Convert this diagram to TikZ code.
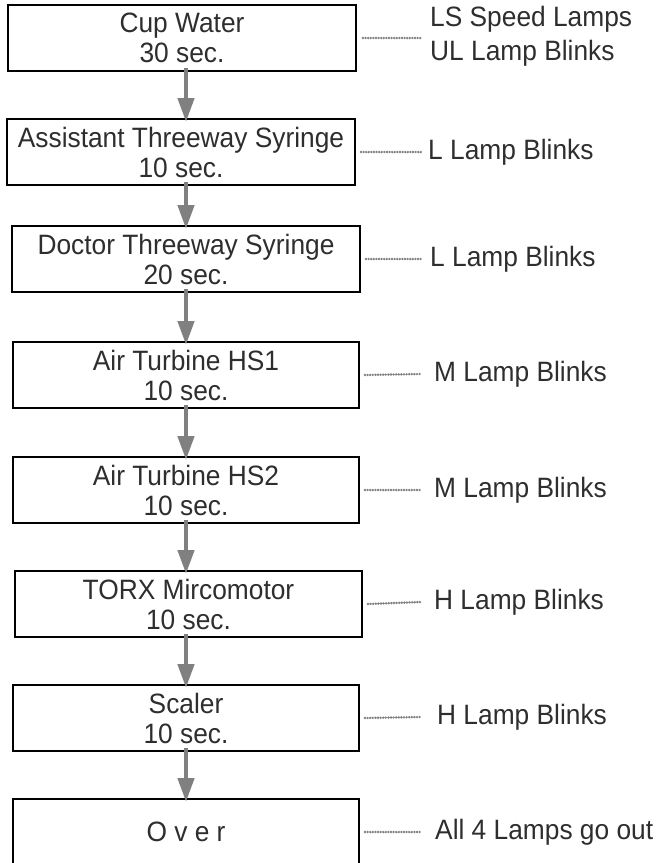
\documentclass[tikz,border=0pt]{standalone}
\usepackage{fontspec}
\setmainfont{Liberation Sans}[FakeStretch=0.94]
\usetikzlibrary{arrows.meta}
\definecolor{txt}{HTML}{2E2E2E}
\definecolor{arrgray}{HTML}{808080}
\definecolor{dotgray}{HTML}{7F7F7F}
\tikzset{
  stepbox/.style={draw=black, line width=2pt, fill=white, rectangle, inner sep=0pt,
    minimum width=346pt, minimum height=66pt, align=center, text=txt,
    font=\fontsize{28}{30}\selectfont},
  lamplabel/.style={anchor=west, inner sep=0pt, align=left, text=txt,
    font=\fontsize{28}{34}\selectfont},
  flowarrow/.style={draw=arrgray, line width=4.5pt,
    -{Triangle[length=24pt,width=16pt,fill=arrgray]}},
  dotlink/.style={draw=dotgray, line width=2.6pt, line cap=round, dash pattern=on 0pt off 2.6pt}
}
\begin{document}
\begin{tikzpicture}[x=1pt,y=-1pt]
\useasboundingbox (0,0) rectangle (662,863);
\coordinate (ax) at (186,0);
% boxes
\node[stepbox, minimum width=348pt] (b1) at (182,38) {Cup Water\\30 sec.};
\node[stepbox, minimum width=348pt] (b2) at (181,152) {Assistant Threeway Syringe\\10 sec.};
\node[stepbox, minimum width=348pt] (b3) at (186,259) {Doctor Threeway Syringe\\20 sec.};
\node[stepbox] (b4) at (186,375) {Air Turbine HS1\\10 sec.};
\node[stepbox] (b5) at (186,490) {Air Turbine HS2\\10 sec.};
\node[stepbox, minimum width=347pt] (b6) at (188.5,604) {TORX Mircomotor\\10 sec.};
\node[stepbox] (b7) at (186,718) {Scaler\\10 sec.};
\node[stepbox] (b8) at (186,832) {O v e r};
% labels
\node[lamplabel] (l1) at (430,36) {LS Speed Lamps\\UL Lamp Blinks};
\node[lamplabel] (l2) at (428,152) {L Lamp Blinks};
\node[lamplabel] (l3) at (430,259) {L Lamp Blinks};
\node[lamplabel] (l4) at (434,374) {M Lamp Blinks};
\node[lamplabel] (l5) at (434,490) {M Lamp Blinks};
\node[lamplabel] (l6) at (434,602) {H Lamp Blinks};
\node[lamplabel] (l7) at (437,717) {H Lamp Blinks};
\node[lamplabel] (l8) at (435,832) {All 4 Lamps go out};
% arrows
\foreach \a/\b in {b1/b2,b2/b3,b3/b4,b4/b5,b5/b6,b6/b7,b7/b8}{
  \draw[flowarrow] ([yshift=4pt]\a.south -| ax) -- ([yshift=-4pt]\b.north -| ax);
}
% dotted links
\draw[dotlink] ([xshift=6pt]b1.east |- 0,38) -- (421,38);
\foreach \b/\l in {b2/l2,b3/l3,b4/l4,b5/l5,b6/l6,b7/l7,b8/l8}{
  \draw[dotlink] ([xshift=5pt]\b.east) -- (421,0 |- \l.west);
}
\end{tikzpicture}
\end{document}
